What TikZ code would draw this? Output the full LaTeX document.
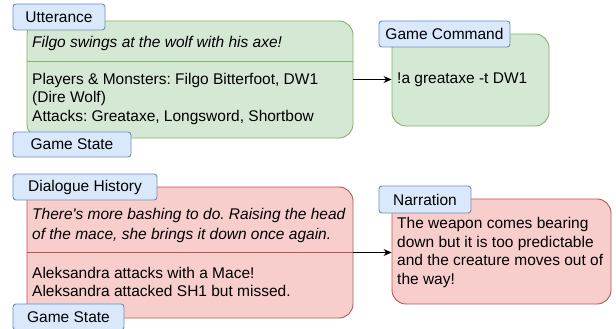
\documentclass[tikz,border=0pt]{standalone}
\usepackage{fontspec}
\newfontfamily\arialfont{Liberation Sans}
\definecolor{gfill}{HTML}{D5E8D4}
\definecolor{gstroke}{HTML}{82B366}
\definecolor{rfill}{HTML}{F8CECC}
\definecolor{rstroke}{HTML}{B85450}
\definecolor{bfill}{HTML}{DAE8FC}
\definecolor{bstroke}{HTML}{6C8EBF}
\usetikzlibrary{arrows.meta}
\frenchspacing
\begin{document}
\begin{tikzpicture}[x=1pt,y=-1pt,
  every node/.style={font=\arialfont\frenchspacing\fontsize{15.5}{18.5}\selectfont},
  greenbox/.style={draw=gstroke,fill=gfill,line width=0.9pt,rounded corners=14pt,minimum width=#1,inner sep=0pt},
  redbox/.style={draw=rstroke,fill=rfill,line width=0.9pt,rounded corners=14pt,inner sep=0pt},
  tagbox/.style={draw=bstroke,fill=bfill,line width=0.9pt,rounded corners=3pt,inner sep=0pt},
  txt/.style={anchor=west,inner sep=0pt,align=left},
  divider/.style={line width=0.9pt},
  conn/.style={line width=0.9pt,-{Stealth[length=8pt,width=7pt]}}
]
\useasboundingbox (0,0) rectangle (616,329);

% top-left green box
\node[greenbox=326pt,minimum height=117pt] (ubox) at (190,79.5) {};
\draw[gstroke,divider] (27,61) coordinate (ud1) -- (353,61) coordinate (ud2);
\node[txt] (utext) at (32,43) {\itshape Filgo swings at the wolf with his axe!};
\node[txt] (gstext) at (32,98.5) {Players \& Monsters: Filgo Bitterfoot, DW1\\(Dire Wolf)\\Attacks: Greataxe, Longsword, Shortbow};
\node[tagbox,minimum width=92pt,minimum height=26pt] (utag) at (59,17) {Utterance};
\node[tagbox,minimum width=118pt,minimum height=25pt] (gstag1) at (72,144.5) {Game State};

% game command box
\node[greenbox=157pt,minimum height=92pt] (cbox) at (470.5,80) {};
\node[txt] (ctext) at (397,80) {!a greataxe -t DW1};
\node[tagbox,minimum width=131pt,minimum height=26pt] (ctag) at (444.5,34) {Game Command};

% bottom-left red box
\node[redbox,minimum width=326pt,minimum height=131pt] (hbox) at (190,252.5) {};
\draw[rstroke,divider] (27,252) coordinate (hd1) -- (353,252) coordinate (hd2);
\node[txt,font=\arialfont\frenchspacing\fontsize{15.5}{20}\selectfont\itshape] (htext) at (32,225) {There's more bashing to do. Raising the head\\of the mace, she brings it down once again.};
\node[txt] (astext) at (32,282) {Aleksandra attacks with a Mace!\\Aleksandra attacked SH1 but missed.};
\node[tagbox,minimum width=144pt,minimum height=26pt] (htag) at (85,187) {Dialogue History};
\node[tagbox,minimum width=111pt,minimum height=26pt] (gstag2) at (68.5,317) {Game State};

% narration box
\node[redbox,minimum width=219pt,minimum height=105pt] (nbox) at (501.5,251.5) {};
\node[txt,font=\arialfont\frenchspacing\fontsize{15.5}{18.4}\selectfont] (ntext) at (397,252.5) {The weapon comes bearing\\down but it is too predictable\\and the creature moves out of\\the way!};
\node[tagbox,minimum width=92pt,minimum height=27pt] (ntag) at (425,199.5) {Narration};

% connectors
\draw[conn] (ubox.east) -- (ubox.east -| cbox.west);
\draw[conn] (hbox.east) -- (hbox.east -| nbox.west);
\end{tikzpicture}
\end{document}
